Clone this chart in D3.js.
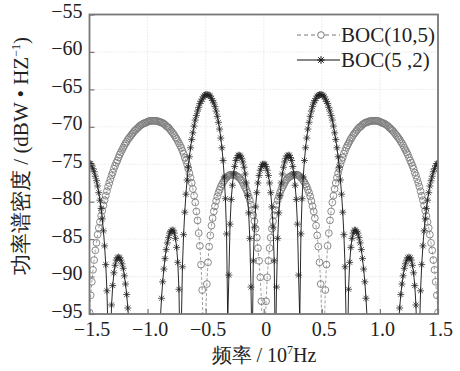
<!DOCTYPE html>
<html>
<head>
<meta charset="utf-8">
<script src="https://cdn.jsdelivr.net/npm/d3@7"></script>
<style>
  body { margin: 0; background: #fff; }
  svg { display: block; }
</style>
</head>
<body>
<svg id="chart" width="460" height="371"></svg>
<script>
// frequency grid, unit 10^7 Hz, -1.50 ... 1.50
const freqStep = 0.01;
const freqs = d3.range(301).map(i => +(-1.5 + i * freqStep).toFixed(2));

// PSD, dBW/Hz (values under -95 lie below the frame)
const psdBoc105 = [
  -94.8, -92.5, -90.7, -89.1, -87.8, -86.5, -85.5, -84.4, -83.5, -82.7,
  -81.9, -81.2, -80.5, -79.8, -79.2, -78.6, -78.0, -77.5, -77.0, -76.5,
  -76.1, -75.6, -75.2, -74.8, -74.5, -74.1, -73.7, -73.4, -73.1, -72.8,
  -72.5, -72.2, -72.0, -71.7, -71.5, -71.3, -71.1, -70.9, -70.7, -70.5,
  -70.4, -70.2, -70.1, -69.9, -69.8, -69.7, -69.6, -69.5, -69.5, -69.4,
  -69.3, -69.3, -69.2, -69.2, -69.2, -69.2, -69.2, -69.2, -69.2, -69.3,
  -69.3, -69.4, -69.4, -69.5, -69.6, -69.7, -69.9, -70.0, -70.1, -70.3,
  -70.5, -70.7, -70.9, -71.1, -71.4, -71.6, -71.9, -72.2, -72.5, -72.8,
  -73.2, -73.6, -74.1, -74.5, -75.0, -75.6, -76.2, -76.8, -77.5, -78.3,
  -79.2, -80.1, -81.3, -82.5, -84.2, -85.9, -88.4, -91.8, -98.1, -111.7,
  -95.9, -91.0, -88.1, -86.0, -84.5, -83.2, -82.2, -81.3, -80.6, -79.9,
  -79.3, -78.8, -78.4, -78.0, -77.7, -77.4, -77.2, -76.9, -76.8, -76.6,
  -76.5, -76.4, -76.4, -76.4, -76.4, -76.4, -76.5, -76.6, -76.7, -76.8,
  -77.0, -77.2, -77.5, -77.8, -78.1, -78.4, -78.8, -79.3, -79.8, -80.4,
  -81.1, -81.8, -82.6, -83.6, -84.8, -86.2, -87.9, -90.1, -93.3, -98.7,
  -130,
  -98.7, -93.3, -90.1, -87.9, -86.2, -84.8, -83.6, -82.6, -81.8,
  -81.1, -80.4, -79.8, -79.3, -78.8, -78.4, -78.1, -77.8, -77.5, -77.2,
  -77.0, -76.8, -76.7, -76.6, -76.5, -76.4, -76.4, -76.4, -76.4, -76.4,
  -76.5, -76.6, -76.8, -76.9, -77.2, -77.4, -77.7, -78.0, -78.4, -78.8,
  -79.3, -79.9, -80.6, -81.3, -82.2, -83.2, -84.5, -86.0, -88.1, -91.0,
  -95.9, -111.7, -98.1, -91.8, -88.4, -85.9, -84.2, -82.5, -81.3, -80.1,
  -79.2, -78.3, -77.5, -76.8, -76.2, -75.6, -75.0, -74.5, -74.1, -73.6,
  -73.2, -72.8, -72.5, -72.2, -71.9, -71.6, -71.4, -71.1, -70.9, -70.7,
  -70.5, -70.3, -70.1, -70.0, -69.9, -69.7, -69.6, -69.5, -69.4, -69.4,
  -69.3, -69.3, -69.2, -69.2, -69.2, -69.2, -69.2, -69.2, -69.2, -69.3,
  -69.3, -69.4, -69.5, -69.5, -69.6, -69.7, -69.8, -69.9, -70.1, -70.2,
  -70.4, -70.5, -70.7, -70.9, -71.1, -71.3, -71.5, -71.7, -72.0, -72.2,
  -72.5, -72.8, -73.1, -73.4, -73.7, -74.1, -74.5, -74.8, -75.2, -75.6,
  -76.1, -76.5, -77.0, -77.5, -78.0, -78.6, -79.2, -79.8, -80.5, -81.2,
  -81.9, -82.7, -83.5, -84.4, -85.5, -86.5, -87.8, -89.1, -90.7, -92.5,
  -94.8
];

const psdBoc52 = [
  -74.9, -74.9, -75.2, -75.6, -76.0, -76.6, -77.2, -77.9, -78.8, -79.8,
  -80.9, -82.3, -83.9, -85.9, -88.4, -91.9, -97.7, -130, -98.7, -93.8,
  -91.2, -89.5, -88.5, -87.8, -87.5, -87.4, -87.5, -87.8, -88.3, -88.9,
  -89.9, -91.0, -92.4, -94.2, -96.5, -99.6, -104.2, -115.0, -113.6, -106.0,
  -103.3, -102.0, -101.5, -101.8, -102.6, -104.5, -107.5, -111.0, -120.7, -110.0,
  -105.0, -102.5, -101.3, -100.5, -100.6, -101.5, -103.4, -108.0, -130, -105.0,
  -99.4, -95.6, -92.9, -90.7, -89.0, -87.6, -86.4, -85.5, -84.8, -84.2,
  -84.0, -83.8, -83.8, -84.2, -84.9, -86.1, -88.1, -91.7, -101.0, -96.9,
  -88.7, -84.4, -81.4, -79.0, -77.1, -75.4, -74.0, -72.8, -71.7, -70.8,
  -69.9, -69.1, -68.5, -67.9, -67.4, -66.9, -66.6, -66.3, -66.0, -65.8,
  -65.7, -65.7, -65.7, -65.8, -65.9, -66.2, -66.5, -66.8, -67.3, -67.9,
  -68.6, -69.4, -70.3, -71.5, -72.8, -74.5, -76.7, -79.6, -84.3, -95.8,
  -89.8, -83.0, -79.7, -77.8, -76.3, -75.3, -74.5, -74.1, -73.8, -73.8,
  -73.9, -74.2, -74.7, -75.4, -76.3, -77.5, -79.2, -81.5, -84.9, -91.4,
  -100.9, -87.9, -83.4, -80.7, -78.8, -77.5, -76.5, -75.8, -75.3, -75.0,
  -75.0,
  -75.0, -75.3, -75.8, -76.5, -77.5, -78.8, -80.7, -83.4, -87.9,
  -100.9, -91.4, -84.9, -81.5, -79.2, -77.5, -76.3, -75.4, -74.7, -74.2,
  -73.9, -73.8, -73.8, -74.1, -74.5, -75.3, -76.3, -77.8, -79.7, -83.0,
  -89.8, -95.8, -84.3, -79.6, -76.7, -74.5, -72.8, -71.5, -70.3, -69.4,
  -68.6, -67.9, -67.3, -66.8, -66.5, -66.2, -65.9, -65.8, -65.7, -65.7,
  -65.7, -65.8, -66.0, -66.3, -66.6, -66.9, -67.4, -67.9, -68.5, -69.1,
  -69.9, -70.8, -71.7, -72.8, -74.0, -75.4, -77.1, -79.0, -81.4, -84.4,
  -88.7, -96.9, -101.0, -91.7, -88.1, -86.1, -84.9, -84.2, -83.8, -83.8,
  -84.0, -84.2, -84.8, -85.5, -86.4, -87.6, -89.0, -90.7, -92.9, -95.6,
  -99.4, -105.0, -130, -108.0, -103.4, -101.5, -100.6, -100.5, -101.3, -102.5,
  -105.0, -110.0, -120.7, -111.0, -107.5, -104.5, -102.6, -101.8, -101.5, -102.0,
  -103.3, -106.0, -113.6, -115.0, -104.2, -99.6, -96.5, -94.2, -92.4, -91.0,
  -89.9, -88.9, -88.3, -87.8, -87.5, -87.4, -87.5, -87.8, -88.5, -89.5,
  -91.2, -93.8, -98.7, -130, -97.7, -91.9, -88.4, -85.9, -83.9, -82.3,
  -80.9, -79.8, -78.8, -77.9, -77.2, -76.6, -76.0, -75.6, -75.2, -74.9,
  -74.9
];

const xTicks = [-1.5, -1.0, -0.5, 0, 0.5, 1.0, 1.5];
const yTicks = [-95, -90, -85, -80, -75, -70, -65, -60, -55];
const seriesNames = ["BOC(10,5)", "BOC(5 ,2)"];

const plotLeft = 89.5, plotRight = 438, plotTop = 14.5, plotBottom = 314;
const serif = "'Liberation Serif', 'Times New Roman', Times, serif";

const svg = d3.select("#chart");

const x = d3.scaleLinear().domain([-1.5, 1.5]).range([plotLeft, plotRight]);
const y = d3.scaleLinear().domain([-95, -55]).range([plotBottom, plotTop]);

svg.append("defs").append("clipPath").attr("id", "plotClip")
  .append("rect")
  .attr("x", plotLeft).attr("y", plotTop)
  .attr("width", plotRight - plotLeft).attr("height", plotBottom - plotTop);

// faint dotted grid
const grid = svg.append("g");
grid.selectAll("line.gx").data(xTicks.slice(1, -1)).enter().append("line")
  .attr("x1", d => x(d)).attr("x2", d => x(d))
  .attr("y1", plotTop).attr("y2", plotBottom)
  .attr("stroke", "#d4d4d4").attr("stroke-width", 0.8).attr("stroke-dasharray", "1,2");
grid.selectAll("line.gy").data(yTicks.slice(1, -1)).enter().append("line")
  .attr("x1", plotLeft).attr("x2", plotRight)
  .attr("y1", d => y(d)).attr("y2", d => y(d))
  .attr("stroke", "#d4d4d4").attr("stroke-width", 0.8).attr("stroke-dasharray", "1,2");

// series data
const data105 = freqs.map((f, i) => ({ f: f, v: psdBoc105[i] }));
const data52 = freqs.map((f, i) => ({ f: f, v: psdBoc52[i] }));

const line = d3.line().x(d => x(d.f)).y(d => y(d.v));

const plot = svg.append("g").attr("clip-path", "url(#plotClip)");

// BOC(10,5): grey dashed line + circles
plot.append("path")
  .datum(data105)
  .attr("d", line)
  .attr("fill", "none")
  .attr("stroke", "#888")
  .attr("stroke-width", 0.8)
  .attr("stroke-dasharray", "3,2");

plot.selectAll("circle.m105").data(data105.filter(d => d.v > -99)).enter()
  .append("circle")
  .attr("class", "m105")
  .attr("cx", d => x(d.f)).attr("cy", d => y(d.v))
  .attr("r", 3.4)
  .attr("fill", "none")
  .attr("stroke", "#7d7d7d")
  .attr("stroke-width", 0.9);

// BOC(5,2): black line + asterisks
function starPath(r) {
  const k = r * 0.72;
  return `M${-r},0H${r}M0,${-r}V${r}M${-k},${-k}L${k},${k}M${-k},${k}L${k},${-k}`;
}

plot.append("path")
  .datum(data52)
  .attr("d", line)
  .attr("fill", "none")
  .attr("stroke", "#111")
  .attr("stroke-width", 0.9);

plot.selectAll("path.m52").data(data52.filter(d => d.v > -99)).enter()
  .append("path")
  .attr("class", "m52")
  .attr("transform", d => `translate(${x(d.f)},${y(d.v)})`)
  .attr("d", starPath(3.5))
  .attr("fill", "none")
  .attr("stroke", "#222")
  .attr("stroke-width", 0.75);

// axes
const xAxis = d3.axisBottom(x)
  .tickValues(xTicks)
  .tickSize(-5)
  .tickPadding(8)
  .tickFormat(d => d === 0 ? "0" : d3.format(".1f")(d).replace("-", "\u2212"));
const yAxis = d3.axisLeft(y)
  .tickValues(yTicks)
  .tickSize(-5)
  .tickPadding(7)
  .tickFormat(d => String(d).replace("-", "\u2212"));

const gx = svg.append("g").attr("transform", `translate(0,${plotBottom})`).call(xAxis);
const gy = svg.append("g").attr("transform", `translate(${plotLeft},0)`).call(yAxis);
[gx, gy].forEach(g => {
  g.attr("font-family", serif).attr("font-size", 20);
  g.select(".domain").remove();
  g.selectAll(".tick line").attr("stroke", "#777").attr("stroke-width", 1.2);
  g.selectAll(".tick text").attr("fill", "#222");
});
gx.selectAll(".tick text").attr("dx", 2);
gy.selectAll(".tick text").attr("dy", "0.15em");

// frame
svg.append("rect")
  .attr("x", plotLeft).attr("y", plotTop)
  .attr("width", plotRight - plotLeft).attr("height", plotBottom - plotTop)
  .attr("fill", "none")
  .attr("stroke", "#777")
  .attr("stroke-width", 1.8);

// axis titles
const xTitle = svg.append("text")
  .attr("x", 264).attr("y", 362)
  .attr("text-anchor", "middle")
  .attr("font-family", serif)
  .attr("font-size", 20)
  .attr("fill", "#222");
xTitle.append("tspan").text("频率 / 10");
xTitle.append("tspan").attr("dy", -8).attr("font-size", 12).text("7");
xTitle.append("tspan").attr("dy", 8).text("Hz");

const yTitle = svg.append("text")
  .attr("transform", "translate(28,156) rotate(-90)")
  .attr("text-anchor", "middle")
  .attr("font-family", serif)
  .attr("font-size", 21)
  .attr("fill", "#222");
yTitle.append("tspan").text("功率谱密度 / (dBW • HZ");
yTitle.append("tspan").attr("dy", -8).attr("font-size", 12).text("\u22121");
yTitle.append("tspan").attr("dy", 8).text(")");

// legend
const legend = svg.append("g");
const legendRows = [
  { name: seriesNames[0], y: 35, dashed: true },
  { name: seriesNames[1], y: 60, dashed: false }
];
legendRows.forEach(row => {
  legend.append("line")
    .attr("x1", 297).attr("x2", 340)
    .attr("y1", row.y).attr("y2", row.y)
    .attr("stroke", row.dashed ? "#777" : "#111")
    .attr("stroke-width", 1)
    .attr("stroke-dasharray", row.dashed ? "4,3" : null);
  if (row.dashed) {
    legend.append("circle")
      .attr("cx", 321).attr("cy", row.y).attr("r", 3.3)
      .attr("fill", "#fff").attr("stroke", "#777");
  } else {
    legend.append("path")
      .attr("transform", `translate(321,${row.y})`)
      .attr("d", starPath(3.8))
      .attr("stroke", "#111").attr("fill", "none");
  }
  legend.append("text")
    .attr("x", 341).attr("y", row.y + 7)
    .attr("font-family", serif)
    .attr("font-size", 21)
    .attr("fill", "#222")
    .text(row.name);
});
</script>
</body>
</html>
